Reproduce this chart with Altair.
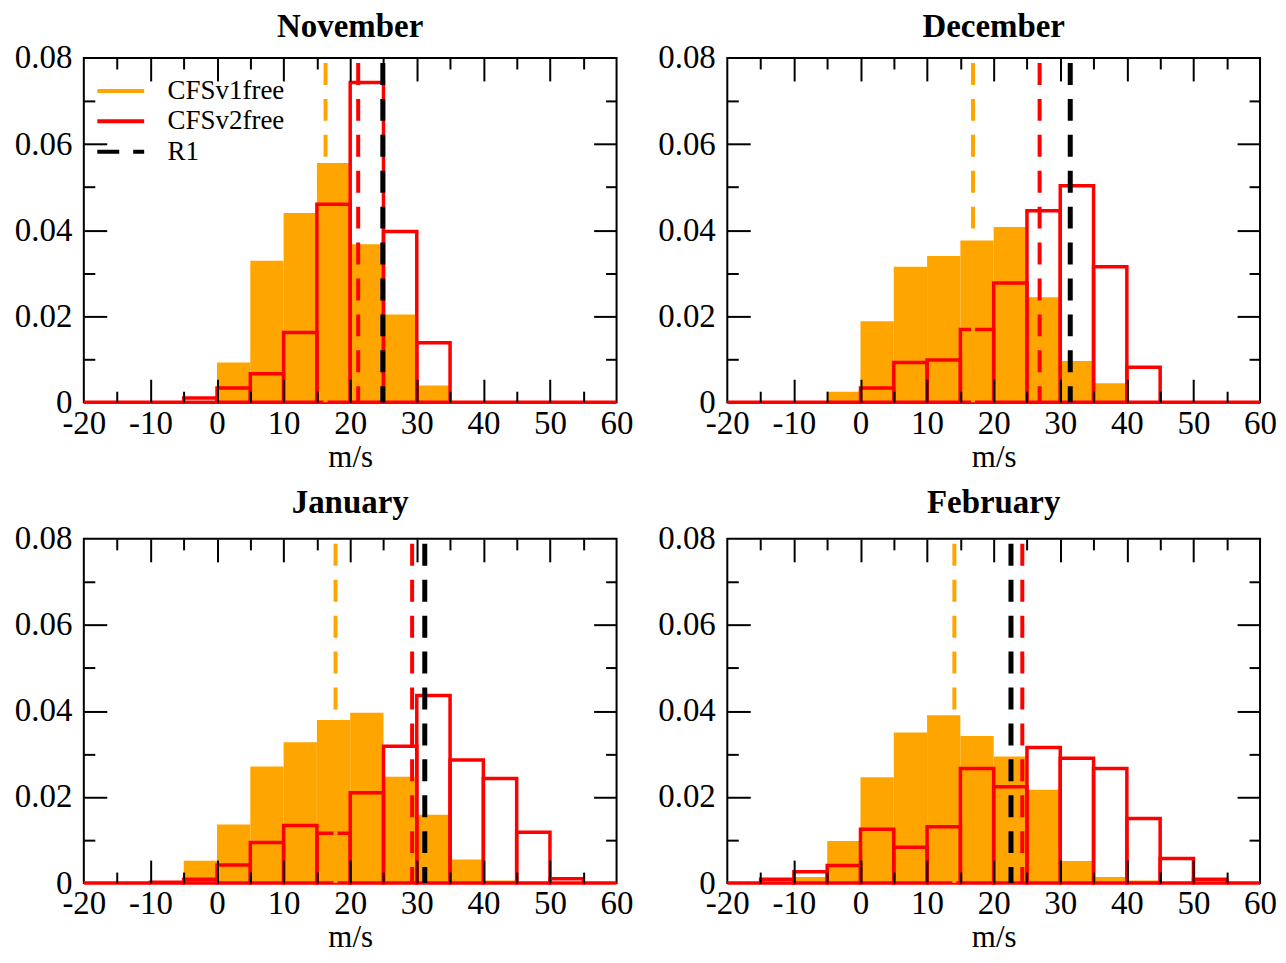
import altair as alt
import pandas as pd

ORANGE = "#FFA500"
RED = "#FF0000"
BLACK = "#000000"
FONT = "Liberation Serif"

# histogram bins (lower edges, width 5 m/s)
bin_lo = [-20, -15, -10, -5, 0, 5, 10, 15, 20, 25, 30, 35, 40, 45, 50, 55]
bin_w = 5

months = ["November", "December", "January", "February"]

# relative frequencies, CFSv1free (filled orange)
nov_v1 = [0, 0, 0, 0.0003, 0.0092, 0.0329, 0.0440, 0.0556, 0.0367, 0.0204, 0.0039, 0, 0, 0, 0, 0]
dec_v1 = [0, 0, 0, 0.0024, 0.0188, 0.0315, 0.0340, 0.0376, 0.0407, 0.0244, 0.0096, 0.0044, 0.0002, 0, 0, 0]
jan_v1 = [0, 0, 0.0005, 0.0052, 0.0136, 0.0271, 0.0327, 0.0379, 0.0396, 0.0247, 0.0159, 0.0055, 0.0006, 0, 0, 0]
feb_v1 = [0, 0.0003, 0.0014, 0.0098, 0.0246, 0.0350, 0.0390, 0.0342, 0.0294, 0.0217, 0.0051, 0.0014, 0.0006, 0, 0, 0]

# relative frequencies, CFSv2free (red outline)
nov_v2 = [0, 0, 0, 0.0010, 0.0033, 0.0066, 0.0162, 0.0460, 0.0743, 0.0397, 0.0138, 0, 0, 0, 0, 0]
dec_v2 = [0, 0, 0, 0, 0.0033, 0.0092, 0.0098, 0.0169, 0.0277, 0.0445, 0.0503, 0.0315, 0.0081, 0, 0, 0]
jan_v2 = [0, 0, 0.0002, 0.0009, 0.0042, 0.0094, 0.0134, 0.0116, 0.0210, 0.0318, 0.0436, 0.0286, 0.0243, 0.0118, 0.0010, 0]
feb_v2 = [0, 0.0009, 0.0026, 0.0041, 0.0125, 0.0083, 0.0131, 0.0266, 0.0224, 0.0315, 0.0290, 0.0266, 0.0150, 0.0057, 0.0009, 0]

# means (dashed vertical lines): CFSv1free, CFSv2free, R1
nov_means = [16.3, 21.2, 24.9]
dec_means = [16.9, 26.9, 31.5]
jan_means = [17.8, 29.3, 31.2]
feb_means = [14.1, 24.3, 22.6]

series = ["CFSv1free", "CFSv2free", "R1"]
series_colors = [ORANGE, RED, BLACK]
series_widths = [4, 4, 5]
legend_dashes = [[1, 0], [1, 0], [22, 14]]

x_labels = [-20, -10, 0, 10, 20, 30, 40, 50, 60]
x_major = [-10, 0, 10, 20, 30, 40, 50]
x_minor = [-15, -5, 5, 15, 25, 35, 45, 55]
y_labels = [0, 0.02, 0.04, 0.06, 0.08]
y_major = [0.02, 0.04, 0.06]
y_minor = [0.01, 0.03, 0.05, 0.07]

W, H = 534, 345


def tick_axis(orient, values, size):
    return alt.Axis(orient=orient, values=values, tickSize=size, offset=-size,
                    labels=False, domain=False, grid=False, title=None, ticks=True,
                    minExtent=0, zindex=1, tickColor="black", tickWidth=2)


def panel(name, v1, v2, means, title_offset, with_legend):
    df = pd.DataFrame({"lo": bin_lo, "hi": [b + bin_w for b in bin_lo], "v1": v1, "v2": v2})
    lines = pd.DataFrame({"series": series, "mean": means, "col": series_colors, "w": series_widths})
    xs = alt.Scale(domain=[-20, 60], nice=False, zero=False)
    ys = alt.Scale(domain=[0, 0.08], nice=False)
    base = alt.Chart(df)

    orange = base.mark_bar(color=ORANGE).encode(
        x=alt.X("lo:Q", scale=xs, axis=alt.Axis(
            orient="bottom", values=x_labels, ticks=False, tickSize=0, domain=False, grid=False,
            labelPadding=5, labelFlush=False, labelOverlap=False,
            labelExpr="'' + datum.value", title="m/s", titlePadding=2)),
        x2="hi:Q",
        y=alt.Y("v1:Q", scale=ys, axis=alt.Axis(
            orient="left", values=y_labels, ticks=False, tickSize=0, domain=False, grid=False,
            labelPadding=12, labelFlush=False, labelOverlap=False,
            labelExpr="datum.value == 0 ? '0' : format(datum.value, '.2f')", title=None)),
        y2=alt.datum(0),
    )
    red = base.mark_bar(fillOpacity=0, stroke=RED, strokeWidth=3.5).encode(
        x=alt.X("lo:Q", scale=xs, axis=tick_axis("bottom", x_major, 23)),
        x2="hi:Q",
        y=alt.Y("v2:Q", scale=ys, axis=tick_axis("left", y_major, 23)),
        y2=alt.datum(0),
    )
    dummy = base.mark_point(opacity=0, size=0)
    d1 = dummy.encode(
        x=alt.X("lo:Q", scale=xs, axis=tick_axis("bottom", x_minor, 11)),
        y=alt.Y("v1:Q", scale=ys, axis=tick_axis("left", y_minor, 11)),
    )
    d2 = dummy.encode(
        x=alt.X("lo:Q", scale=xs, axis=tick_axis("top", x_major, 23)),
        y=alt.Y("v1:Q", scale=ys, axis=tick_axis("right", y_major, 23)),
    )
    d3 = dummy.encode(
        x=alt.X("lo:Q", scale=xs, axis=tick_axis("top", x_minor, 11)),
        y=alt.Y("v1:Q", scale=ys, axis=tick_axis("right", y_minor, 11)),
    )
    rules = alt.Chart(lines).mark_rule(strokeDash=[22, 14], strokeDashOffset=31).encode(
        x=alt.X("mean:Q", scale=xs, axis=None),
        color=alt.Color("col:N", scale=None),
        strokeWidth=alt.StrokeWidth("w:Q", scale=None),
    )
    layers = [orange, red, d1, d2, d3, rules]
    if with_legend:
        leg = alt.Legend(title=None, orient="none", legendX=23, legendY=19,
                         symbolType="M-2,0L2,0", symbolSize=552, symbolStrokeWidth=4,
                         labelFont=FONT, labelFontSize=27, labelColor="black",
                         labelOffset=33, rowPadding=3.5, padding=0)
        legend_layer = alt.Chart(lines).transform_filter("datum.mean < -1000").mark_rule().encode(
            x=alt.X("mean:Q", scale=xs, axis=None),
            color=alt.Color("series:N", scale=alt.Scale(domain=series, range=series_colors), legend=leg),
            strokeDash=alt.StrokeDash("series:N", scale=alt.Scale(domain=series, range=legend_dashes), legend=leg),
        )
        layers.append(legend_layer)
    return alt.layer(*layers).resolve_axis(x="independent", y="independent").properties(
        width=W, height=H,
        title=alt.TitleParams(text=name, font=FONT, fontSize=33, fontWeight="bold", color="black",
                              offset=title_offset, anchor="middle"),
    )


p1 = panel(months[0], nov_v1, nov_v2, nov_means, -1.5, True)
p2 = panel(months[1], dec_v1, dec_v2, dec_means, -1.5, False)
p3 = panel(months[2], jan_v1, jan_v2, jan_means, 2.5, False)
p4 = panel(months[3], feb_v1, feb_v2, feb_means, 2.5, False)

chart = alt.concat(p1, p2, p3, p4, columns=2, spacing={"row": 13, "column": 22}).resolve_scale(
    color="independent", strokeDash="independent"
).resolve_legend(
    color="independent", strokeDash="independent"
).properties(
    padding={"left": 5, "top": 0, "right": 0, "bottom": 0}
).configure_view(
    stroke="black", strokeWidth=2
).configure_axis(
    labelFont=FONT, labelFontSize=33, labelColor="black",
    titleFont=FONT, titleFontSize=31, titleFontWeight="normal", titleColor="black",
    tickColor="black", tickWidth=2,
)

chart.save("out.html", embed_options={"renderer": "svg", "actions": False})
